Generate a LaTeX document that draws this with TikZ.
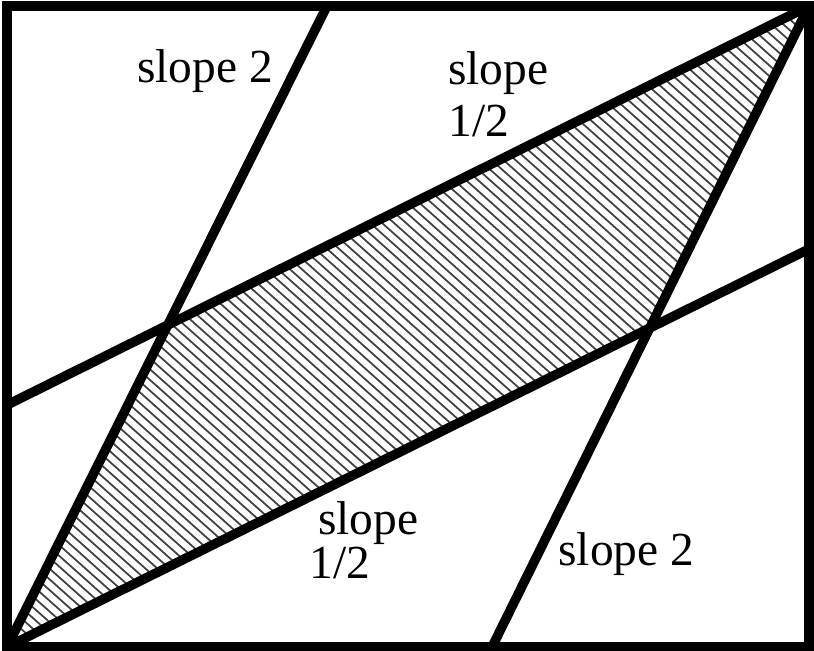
\documentclass[tikz,border=0pt]{standalone}
\usepackage{fontspec}
\setmainfont{Liberation Serif}

\begin{document}
\begin{tikzpicture}[
  x=0.02cm, y=-0.02cm,
  edge/.style={line width=0.19cm},
  frame/.style={line width=0.2cm},
  hatch/.style={line width=0.035cm, black!75},
  lbl/.style={font=\fontsize{27}{30}\selectfont, align=left,
    inner sep=0pt, anchor=base west}
]
\useasboundingbox (0,0) rectangle (814,651);

% corners and line ends
\coordinate (A) at (7,647);   % bottom-left corner
\coordinate (C) at (809,6);   % top-right corner
\coordinate (G) at (327,6);   % top end of left slope-2 line
\coordinate (H) at (7,405);   % left end of upper slope-1/2 line
\coordinate (E) at (809,249); % right end of lower slope-1/2 line
\coordinate (F) at (492,647); % bottom end of right slope-2 line
\coordinate (B) at (intersection of A--G and H--C);
\coordinate (D) at (intersection of A--E and F--C);

% shaded parallelogram
\begin{scope}
  \clip (A) -- (B) -- (C) -- (D) -- cycle;
  \foreach \x in {-720,-708,...,820}
    \draw[hatch] (\x,0) -- ++(740,660);
\end{scope}

% lines
\draw[edge] (A) -- (G);
\draw[edge] (H) -- (C);
\draw[edge] (A) -- (E);
\draw[edge] (F) -- (C);

% frame
\draw[frame] (A) rectangle (C);

% labels
\node[lbl] (s2top) at (137,83) {slope 2};
\node[lbl] (s12top) at (448,137) {slope\\1/2};
\node[lbl] (s12bot) at (318,578) {slope\\[-5.5pt]\hspace*{-5pt}1/2};
\node[lbl] (s2bot) at (558,565) {slope 2};

\end{tikzpicture}
\end{document}
